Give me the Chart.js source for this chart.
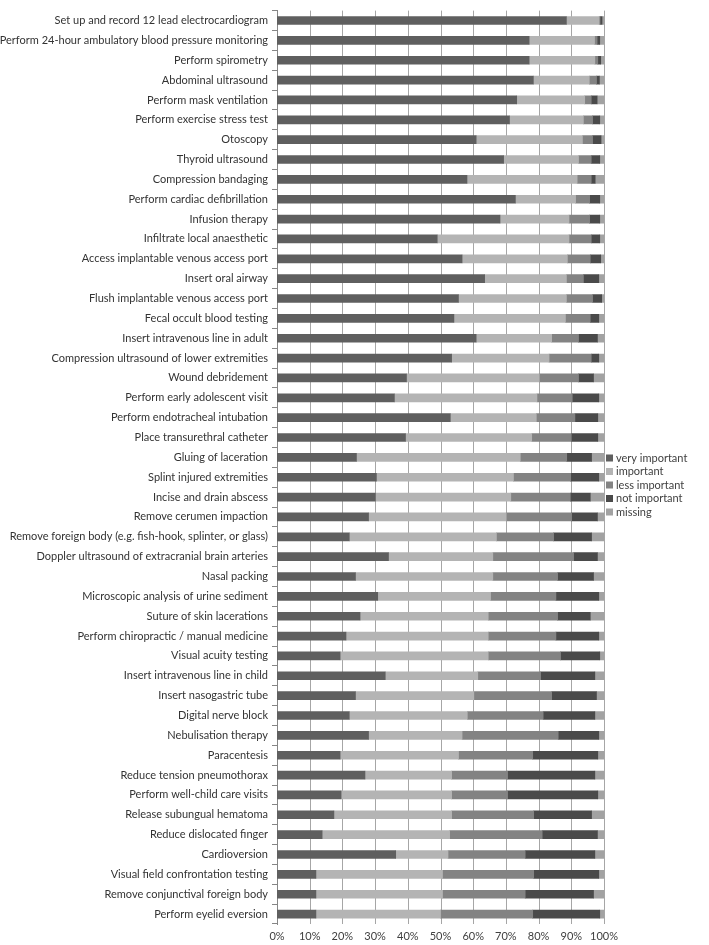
<!DOCTYPE html>
<html><head><meta charset="utf-8">
<script src="https://cdn.jsdelivr.net/npm/chart.js@4/dist/chart.umd.min.js"></script>
<style>html,body{margin:0;padding:0;background:#fff;}#wrap{position:relative;width:709px;height:945px;}</style>
</head><body><div id="wrap"><canvas id="c" width="709" height="945"></canvas></div>
<script>
const categories = [
 'Set up and record 12 lead electrocardiogram',
 'Perform 24-hour ambulatory blood pressure monitoring',
 'Perform spirometry',
 'Abdominal ultrasound',
 'Perform mask ventilation',
 'Perform exercise stress test',
 'Otoscopy',
 'Thyroid ultrasound',
 'Compression bandaging',
 'Perform cardiac defibrillation',
 'Infusion therapy',
 'Infiltrate local anaesthetic',
 'Access implantable venous access port',
 'Insert oral airway',
 'Flush implantable venous access port',
 'Fecal occult blood testing',
 'Insert intravenous line in adult',
 'Compression ultrasound of lower extremities',
 'Wound debridement',
 'Perform early adolescent visit',
 'Perform endotracheal intubation',
 'Place transurethral catheter',
 'Gluing of laceration',
 'Splint injured extremities',
 'Incise and drain abscess',
 'Remove cerumen impaction',
 'Remove foreign body (e.g. fish-hook, splinter, or glass)',
 'Doppler ultrasound of extracranial brain arteries',
 'Nasal packing',
 'Microscopic analysis of urine sediment',
 'Suture of skin lacerations',
 'Perform chiropractic / manual medicine',
 'Visual acuity testing',
 'Insert intravenous line in child',
 'Insert nasogastric tube',
 'Digital nerve block',
 'Nebulisation therapy',
 'Paracentesis',
 'Reduce tension pneumothorax',
 'Perform well-child care visits',
 'Release subungual hematoma',
 'Reduce dislocated finger',
 'Cardioversion',
 'Visual field confrontation testing',
 'Remove conjunctival foreign body',
 'Perform eyelid eversion'
];
const veryImportant = [88.5,77.1,77.1,78.4,73.3,71.1,60.9,69.3,58.1,72.9,68.2,49.0,56.6,63.5,55.5,54.1,60.9,53.4,39.6,35.9,53.0,39.3,24.3,30.4,30.1,28.0,22.1,34.1,24.0,30.8,25.4,21.1,19.3,33.1,24.0,22.1,28.0,19.3,26.9,19.6,17.4,13.8,36.3,11.9,11.9,11.9];
const important     = [10.0,20.0,20.1,17.1,20.8,22.6,32.5,22.9,33.7,18.4,21.1,40.3,32.2,25.0,33.0,34.1,23.1,29.8,40.6,43.6,26.3,38.6,50.1,41.9,41.4,42.1,45.0,31.9,42.0,34.5,39.2,43.5,45.3,28.3,36.2,36.1,28.6,36.2,26.5,33.8,36.0,39.0,16.0,38.7,38.7,38.1];
const lessImportant = [0.3,0.8,0.9,2.2,2.0,2.8,3.1,3.9,4.3,4.3,6.3,6.8,7.0,5.2,8.0,7.6,8.2,12.9,12.0,10.8,11.8,12.1,14.2,17.5,18.2,20.0,17.5,24.7,19.8,20.0,21.2,20.7,22.1,19.2,23.8,23.2,29.4,22.7,17.1,17.1,25.1,28.3,23.6,27.9,25.3,28.2];
const notImportant  = [0.6,0.8,0.9,0.9,1.8,2.2,2.6,2.6,1.2,3.1,3.1,2.6,3.2,4.7,2.8,2.6,5.8,2.3,4.6,8.1,7.0,8.1,7.6,8.6,6.1,7.9,11.6,7.3,11.0,13.1,10.0,13.1,12.0,16.6,13.7,15.8,12.4,19.9,26.7,27.6,17.7,16.9,21.3,19.9,20.9,20.5];
const missing       = [0.6,1.3,1.0,1.4,2.1,1.3,0.9,1.3,2.7,1.3,1.3,1.3,1.0,1.6,0.7,1.6,2.0,1.6,3.2,1.6,1.9,1.9,3.8,1.6,4.2,2.0,3.8,2.0,3.2,1.6,4.2,1.6,1.3,2.8,2.3,2.8,1.6,1.9,2.8,1.9,3.8,2.0,2.8,1.6,3.2,1.3];
const seriesNames = ['very important','important','less important','not important','missing'];
const tickLabels = ['0%','10%','20%','30%','40%','50%','60%','70%','80%','90%','100%'];

const seriesValues = [veryImportant, important, lessImportant, notImportant, missing];
const seriesColors = ['#5f5f5f','#b4b4b4','#838383','#4a4a4a','#a2a2a2'];
const FONT = 'Lato';

const gridPlugin = {
  id: 'vgrid',
  afterDraw(chart) {
    const ctx = chart.ctx, xs = chart.scales.x, area = chart.chartArea;
    ctx.save();
    ctx.globalCompositeOperation = 'destination-over';
    ctx.fillStyle = '#a6a6a6';
    xs.ticks.forEach(t => {
      const px = Math.round(xs.getPixelForValue(t.value));
      ctx.fillRect(px, area.top, 1, area.bottom - area.top);
    });
    ctx.restore();
  }
};

const legendPlugin = {
  id: 'sideLegend',
  afterDraw(chart) {
    const ctx = chart.ctx;
    ctx.save();
    ctx.font = '11px ' + FONT;
    ctx.textBaseline = 'middle';
    ctx.textAlign = 'left';
    chart.data.datasets.forEach((ds, i) => {
      const y = 458 + i * 13.5;
      ctx.fillStyle = ds.backgroundColor;
      ctx.fillRect(606, y - 3.5, 7, 7);
      ctx.fillStyle = '#404040';
      ctx.fillText(ds.label, 616, y);
    });
    ctx.restore();
  }
};

new Chart(document.getElementById('c'), {
  type: 'bar',
  data: {
    labels: categories,
    datasets: seriesNames.map((n, i) => ({
      label: n,
      data: seriesValues[i],
      backgroundColor: seriesColors[i],
      borderWidth: 0,
      barThickness: 8
    }))
  },
  options: {
    indexAxis: 'y',
    responsive: false,
    animation: false,
    devicePixelRatio: 1,
    layout: { padding: { top: 1, right: 105, bottom: 0, left: 0 } },
    plugins: { legend: { display: false }, tooltip: { enabled: false } },
    scales: {
      x: {
        stacked: true, min: 0, max: 100,
        ticks: { stepSize: 10, font: { family: FONT, size: 11 }, color: '#404040', padding: 6,
                 maxRotation: 0, minRotation: 0, autoSkip: false,
                 callback: (v, i) => tickLabels[i] },
        grid: { display: false, drawTicks: false },
        border: { display: false },
        afterFit: s => { s.height = 21; }
      },
      y: {
        stacked: true,
        ticks: { autoSkip: false, font: { family: FONT, size: 11 }, color: '#333333', padding: 4 },
        grid: { drawOnChartArea: false, tickLength: 5, color: '#868686', offset: true },
        border: { color: '#868686' },
        afterFit: s => { s.width = 277; }
      }
    }
  },
  plugins: [gridPlugin, legendPlugin]
});
</script>
</body></html>
